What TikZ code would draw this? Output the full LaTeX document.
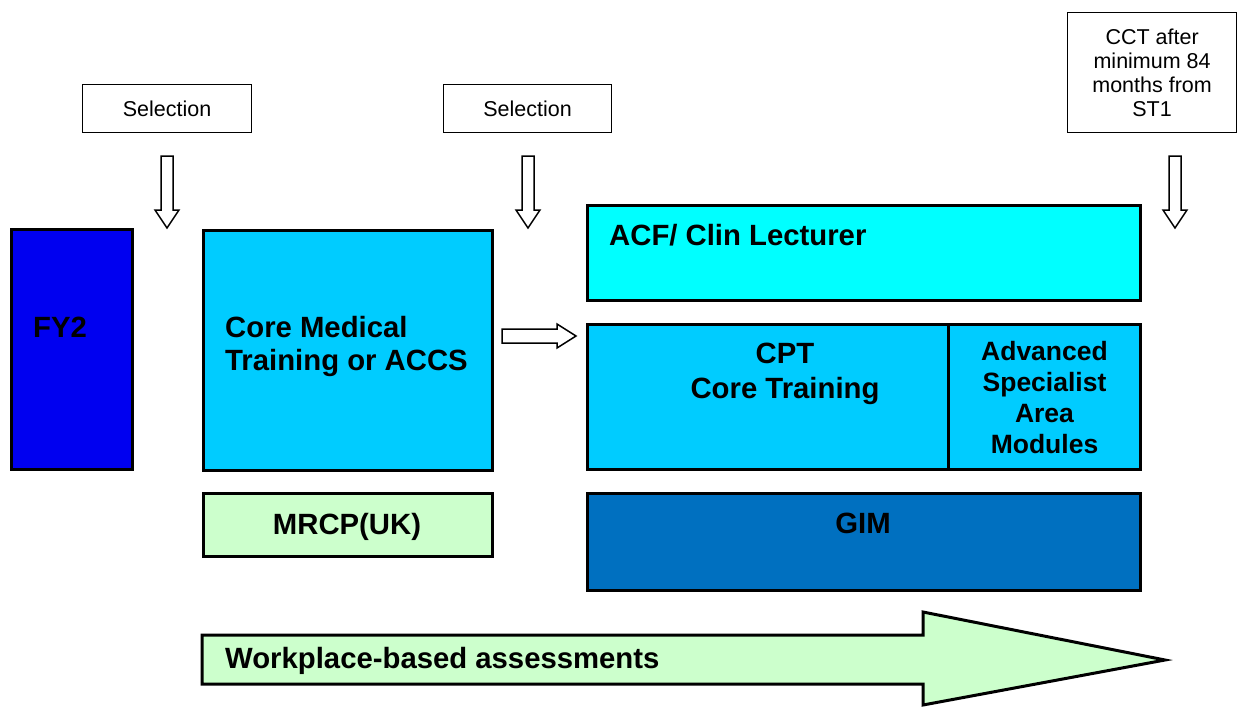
\documentclass[tikz,border=0pt]{standalone}
\usepackage{fontspec}
\setmainfont{Liberation Sans}
\definecolor{fyblue}{HTML}{0000F0}
\definecolor{cmtblue}{HTML}{00CCFF}
\definecolor{acfcyan}{HTML}{00FFFF}
\definecolor{gimblue}{HTML}{0070C0}
\definecolor{lgreen}{HTML}{CCFFCC}
\begin{document}
\begin{tikzpicture}[x=1pt,y=-1pt,
  box/.style={draw=black, line width=3pt, anchor=north west, inner sep=0pt},
  thinbox/.style={draw=black, line width=1.2pt, anchor=north west, inner sep=0pt, fill=white},
  bigtxt/.style={font=\fontsize{29.3}{33}\selectfont\bfseries, inner sep=0pt},
  smalltxt/.style={font=\fontsize{21.5}{24}\selectfont, inner sep=0pt, align=center},
  hollow/.style={draw=black, line width=1.5pt, fill=white, line join=miter},
  pics/downarr/.style={code={\draw[hollow] (-6,0) -- (6,0) -- (6,54) -- (12,54) -- (0,72) -- (-12,54) -- (-6,54) -- cycle;}}]
\useasboundingbox (0,0) rectangle (1243,707);

% top label boxes
\node[thinbox, minimum width=169pt, minimum height=48pt] (sel1) at (82,84) {};
\node[smalltxt] at (sel1.center) {Selection};
\node[thinbox, minimum width=168pt, minimum height=48pt] (sel2) at (443,84) {};
\node[smalltxt] at (sel2.center) {Selection};
\node[thinbox, minimum width=169pt, minimum height=120pt] (cct) at (1067,12) {};
\node[smalltxt] at ([yshift=-0.5pt]cct.center) {CCT after\\minimum 84\\months from\\ST1};

% down arrows
\pic at (167,156) {downarr};
\pic at (528,156) {downarr};
\pic at (1175,156) {downarr};

% main boxes
\node[box, fill=fyblue, minimum width=121pt, minimum height=240pt] (fy2) at (10,228) {};
\node[bigtxt] at (60,327) {FY2};

\node[box, fill=cmtblue, minimum width=289pt, minimum height=240pt] (cmt) at (202,229) {};
\node[bigtxt, anchor=west, align=left] at (225,346) {Core Medical\\Training or ACCS};

\node[box, fill=lgreen, minimum width=289pt, minimum height=63pt] (mrcp) at (202,492) {};
\node[bigtxt] at (347,527) {MRCP(UK)};

\node[box, fill=acfcyan, minimum width=553pt, minimum height=95pt] (acf) at (586,204) {};
\node[bigtxt, anchor=west] at (609,235) {ACF/ Clin Lecturer};

\node[box, fill=cmtblue, minimum width=361pt, minimum height=145pt] (cpt) at (586,323) {};
\node[bigtxt, align=center, font=\fontsize{29.3}{35}\selectfont\bfseries] at (785,374) {CPT\\Core Training};

\node[box, fill=cmtblue, minimum width=192pt, minimum height=145pt] (adv) at (947,323) {};
\node[bigtxt, align=center, font=\fontsize{26.5}{31}\selectfont\bfseries] at ([yshift=-1pt]adv.center) {Advanced\\Specialist\\Area\\Modules};

\node[box, fill=gimblue, minimum width=553pt, minimum height=97pt] (gim) at (586,492) {};
\node[bigtxt] at (863,523) {GIM};

% right arrow between CMT and CPT
\draw[hollow] (502,329) -- (557,329) -- (557,324) -- (576,336) -- (557,348) -- (557,343) -- (502,343) -- cycle;

% big arrow
\draw[draw=black, line width=3pt, fill=lgreen, line join=miter]
  (202,635) -- (923,635) -- (923,612) -- (1165,660) -- (923,705) -- (923,684) -- (202,684) -- cycle;
\node[bigtxt, anchor=west] at (225,661) {Workplace-based assessments};
\end{tikzpicture}
\end{document}
